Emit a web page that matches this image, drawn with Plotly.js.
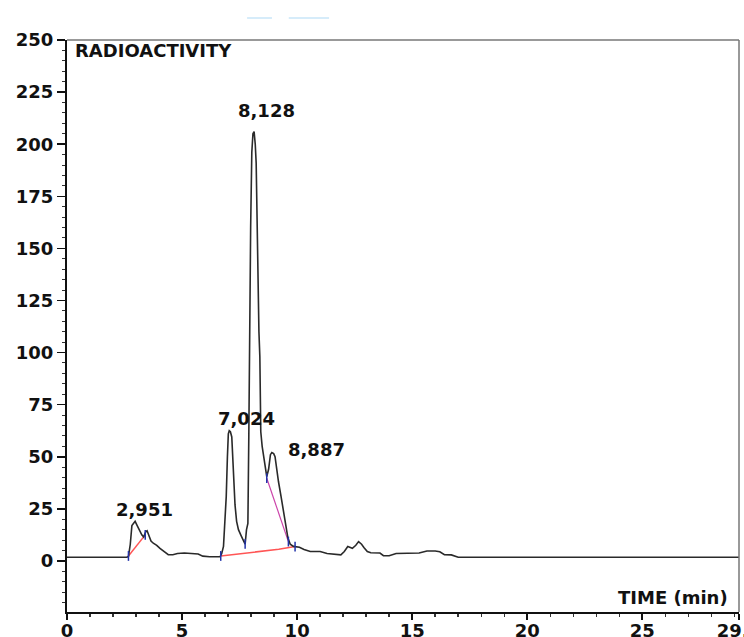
<!DOCTYPE html>
<html>
<head>
<meta charset="utf-8">
<script src="https://cdn.plot.ly/plotly-3.0.1.min.js"></script>
<style>html,body{margin:0;padding:0;background:#fff;}#chart{width:744px;height:637px;}</style>
</head>
<body>
<div id="chart"></div>
<script>
// Chromatogram (time in min, radioactivity)
const timeMin = [0, 2.6, 2.67, 2.75, 2.82, 2.9, 2.96, 3.05, 3.15, 3.25, 3.33, 3.42, 3.48, 3.55, 3.65, 3.75, 3.9, 4.04, 4.2, 4.4, 4.6, 4.8, 5.1, 5.4, 5.7, 5.9, 6.2, 6.65,
  6.72, 6.8, 6.86, 6.92, 6.97, 7.01, 7.05, 7.1, 7.16, 7.2, 7.25, 7.3, 7.37, 7.45, 7.55, 7.65, 7.74, 7.8, 7.86,
  7.9, 7.93, 7.98, 8.03, 8.08, 8.13, 8.18, 8.22, 8.26, 8.3, 8.34, 8.38, 8.42, 8.48, 8.55, 8.62, 8.68,
  8.76, 8.84, 8.9, 8.98, 9.04, 9.1, 9.19, 9.3, 9.4, 9.5, 9.6, 9.7, 9.84, 10.1, 10.3, 10.57, 11.0, 11.3, 11.58, 11.9,
  12.05, 12.2, 12.4, 12.55, 12.67, 12.8, 12.9, 13.05, 13.2, 13.6, 13.75, 14.0, 14.3, 14.9, 15.3, 15.64, 16.0, 16.2, 16.4, 16.7, 17.0, 29.2];
const radioactivity = [1.8, 1.8, 2.2, 8, 17, 18.5, 19, 17, 14.5, 12.5, 11.5, 14, 14.5, 12, 9.5, 8.5, 7.5, 6, 4.5, 3, 3, 3.6, 3.8, 3.4, 3.3, 2.3, 2.0, 2.0,
  3.5, 7, 20, 31, 50, 61, 62.5, 62, 59.5, 48, 38, 27, 19, 15, 12.5, 10, 8, 15, 18,
  60, 114, 160, 196, 205, 206, 200, 191, 160, 127, 110, 98, 62, 55, 50, 45, 40.5,
  44, 51, 52, 51.5, 50, 44, 38, 31, 24, 17, 11, 8, 7, 6.6, 5.5, 4.5, 4.5, 3.6, 3.2, 2.9,
  4.5, 6.9, 6.1, 7.5, 9.3, 8, 6.5, 4.5, 3.9, 3.8, 2.5, 2.5, 3.6, 3.8, 3.8, 4.8, 4.8, 4.4, 3.0, 2.9, 1.8, 1.8];

// Integration baselines
const base1Time = [2.67, 3.4];
const base1Val = [2.4, 12.5];
const base2Time = [6.68, 7.74, 8.5, 9.2, 9.91];
const base2Val = [2.4, 3.6, 4.6, 5.6, 6.9];
const dropTime = [8.68, 9.62];
const dropVal = [39.7, 9.3];
// Peak boundary markers
const markTime = [2.67, 3.4, 6.68, 7.74, 8.68, 9.62, 9.91];
const markVal = [2.4, 12.5, 2.4, 8.2, 39.7, 9.3, 6.9];

// Peak labels
const peakLabels = ["2,951", "7,024", "8,128", "8,887"];
const peakLabelTime = [3.35, 7.78, 8.65, 10.83];
const peakLabelVal = [24.5, 68.6, 216, 53.3];

const xTickVals = [0, 5, 10, 15, 20, 25, 29.2];
const xTickText = ["0", "5", "10", "15", "20", "25", "29,2"];
const yTickVals = [0, 25, 50, 75, 100, 125, 150, 175, 200, 225, 250];

const boldFont = {family: "DejaVu Sans", size: 18, color: "#111", weight: "bold"};

const traces = [
  {x: base1Time, y: base1Val, mode: "lines", line: {color: "#ff5555", width: 1.5}, hoverinfo: "skip"},
  {x: base2Time, y: base2Val, mode: "lines", line: {color: "#ff5555", width: 1.5}, hoverinfo: "skip"},
  {x: dropTime, y: dropVal, mode: "lines", line: {color: "#cc44aa", width: 1.2}, hoverinfo: "skip"},
  {x: timeMin, y: radioactivity, mode: "lines", line: {color: "#2a2a2a", width: 1.6}},
  {x: markTime, y: markVal, mode: "markers", marker: {symbol: "line-ns", size: 7, line: {color: "#2233aa", width: 1.5}}, hoverinfo: "skip"}
];

const annotations = peakLabels.map((t, i) => ({
  x: peakLabelTime[i], y: peakLabelVal[i], text: t, showarrow: false,
  xanchor: "center", yanchor: "middle", font: boldFont
}));
annotations.push({xref: "paper", x: 0.009, y: 245.2, text: "RADIOACTIVITY", showarrow: false, xanchor: "left", yanchor: "middle", font: boldFont});
annotations.push({x: 28.83, y: -17.3, text: "TIME (min)", showarrow: false, xanchor: "right", yanchor: "middle", font: boldFont});

const layout = {
  width: 744, height: 637,
  margin: {l: 67, r: 5, t: 40, b: 25},
  paper_bgcolor: "#fff", plot_bgcolor: "#fff",
  showlegend: false,
  xaxis: {
    range: [0, 29.2], tickmode: "array", tickvals: xTickVals, ticktext: xTickText,
    ticks: "outside", ticklen: 6, tickwidth: 2, tickcolor: "#111",
    ticklabeloverflow: "allow", ticklabelstandoff: -5,
    showline: true, linecolor: "#111", linewidth: 2, showgrid: false, zeroline: false,
    tickfont: boldFont,
    minor: {tickmode: "linear", tick0: 0, dtick: 1, ticks: "outside", ticklen: 3, tickwidth: 1.5, tickcolor: "#333", showgrid: false}
  },
  yaxis: {
    range: [-24.5, 250], tickmode: "array", tickvals: yTickVals,
    ticks: "outside", ticklen: 8, tickwidth: 1.5, tickcolor: "#111",
    showline: true, linecolor: "#111", linewidth: 2, showgrid: false, zeroline: false,
    tickfont: boldFont,
    minor: {tickmode: "linear", tick0: 0, dtick: 5, ticks: "outside", ticklen: 3, tickwidth: 1, tickcolor: "#333", showgrid: false}
  },
  shapes: [
    {type: "line", xref: "paper", yref: "paper", x0: 0, x1: 1, y0: 1, y1: 1, line: {color: "#777", width: 1.5}},
    {type: "line", xref: "paper", yref: "paper", x0: 1, x1: 1, y0: 0, y1: 1, line: {color: "#777", width: 1.5}},
    {type: "line", xref: "paper", yref: "paper", x0: 0.268, x1: 0.305, y0: 1.0385, y1: 1.0385, line: {color: "#d6ecfa", width: 2}},
    {type: "line", xref: "paper", yref: "paper", x0: 0.330, x1: 0.390, y0: 1.0385, y1: 1.0385, line: {color: "#d6ecfa", width: 2}}
  ],
  annotations: annotations
};

Plotly.newPlot("chart", traces, layout, {displayModeBar: false, staticPlot: true});
</script>
</body>
</html>
